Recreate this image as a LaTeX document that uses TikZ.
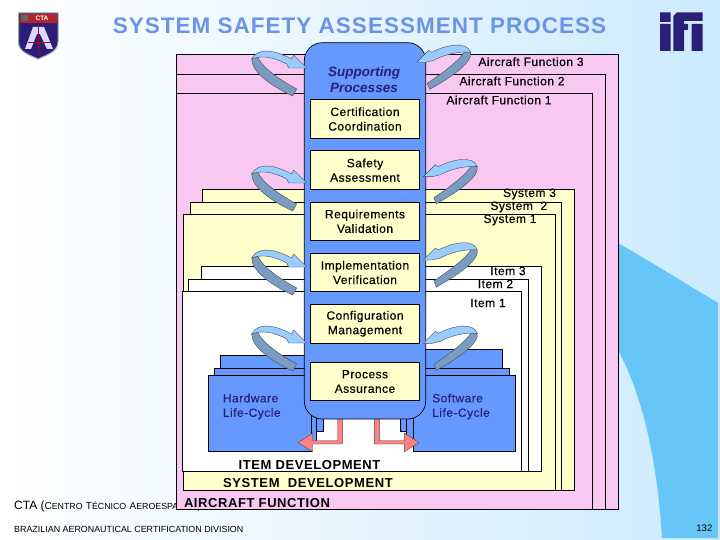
\documentclass[tikz,border=0pt]{standalone}
\usepackage{fontspec}
\setmainfont{Liberation Sans}
\newfontfamily\semi[FakeBold=0.3,LetterSpace=4]{Liberation Sans}
\newfontfamily\bigbold[LetterSpace=4.5,BoldFont={Liberation Sans Bold}]{Liberation Sans}
\usetikzlibrary{calc}
\definecolor{pinkf}{HTML}{F8C8F2}
\definecolor{yellowf}{HTML}{FFFFCC}
\definecolor{bluef}{HTML}{6699FF}
\definecolor{bandf}{HTML}{7A9CC2}
\definecolor{lightf}{HTML}{99CCFF}
\definecolor{salmonf}{HTML}{FF8080}
\definecolor{skyf}{HTML}{66C6F8}
\definecolor{pagelight}{HTML}{CCEAFE}
\definecolor{titlef}{HTML}{6A94E6}
\definecolor{navyf}{HTML}{2A1E78}
\newcommand{\sm}[1]{{\fontsize{8.8}{9}\selectfont #1}}
\newcommand{\bg}[1]{{\fontsize{10}{10}\selectfont #1}}
\tikzset{
  frame/.style={draw=black,line width=.7pt},
  pinkbox/.style={frame,fill=pinkf},
  yellowbox/.style={frame,fill=yellowf},
  whitebox/.style={frame,fill=white},
  bluebox/.style={frame,fill=bluef},
  lbl/.style={inner sep=0pt,font=\semi\fontsize{12}{14.5}\selectfont,align=center,text=black},
  big/.style={inner sep=0pt,font=\bigbold\bfseries\fontsize{13}{15}\selectfont,text=black},
  band/.style={draw=black!70,line width=.4pt,fill=bandf},
  lighta/.style={draw=black!70,line width=.4pt,fill=lightf},
  pinka/.style={draw=black!70,line width=.4pt,fill=salmonf},
  procbox/.style={draw=black,line width=.7pt,fill=yellowf,minimum width=109.4pt,inner sep=0pt,font=\semi\fontsize{12}{14.5}\selectfont,align=center}
}
\newcommand{\leftloop}[2]{%
  \begin{scope}[shift={(#1,#2)}]
    \draw[band] (-55,-9) .. controls (-55,3) and (-38,17) .. (-14,28) -- (-10,21)
       .. controls (-28,11) and (-44,0) .. (-49,-11) -- cycle;
    \draw[lighta] (0,0) -- (-13,-13) -- (-15,-9) .. controls (-30,-17) and (-48,-22) .. (-55,-9)
       .. controls (-45,-13) and (-33,-11) .. (-20,-4) -- (-18,0) -- cycle;
  \end{scope}}
\newcommand{\rightloop}[2]{%
  \begin{scope}[shift={(#1,#2)}]
    \draw[band] (54,-10) .. controls (56,0) and (35,15) .. (13,27) -- (10.5,21)
       .. controls (27,10) and (44,-3) .. (48,-11) -- cycle;
    \draw[lighta] (0,0) -- (12,-12) -- (15,-10) .. controls (28,-17) and (50,-22) .. (54,-10)
       .. controls (42,-11) and (28,-8) .. (17,-2) -- (9,0) -- cycle;
  \end{scope}}
\begin{document}
\begin{tikzpicture}[x=1pt,y=-1pt]
\useasboundingbox (0,0) rectangle (720,540);
% background
\shade[left color=white,right color=pagelight,shading angle=90] (0,0) rectangle (720,540);
\fill[skyf] (647,260) -- (718,303) -- (718,538) -- (662,538)
   .. controls (658,470) and (645,400) .. (618,350) -- (618,243) -- cycle;
% footer text under the frame
\node[anchor=base west,inner sep=0pt,font=\fontsize{12}{12}\selectfont] (cta) at (14,509)
  {CTA (\bg{C}\sm{ENTRO} \bg{T}\sm{ÉCNICO} \bg{A}\sm{EROESPACIAL)}};
\node[anchor=base west,inner sep=0pt,font=\fontsize{8.9}{10}\selectfont] (bra) at (14,532.5)
  {BRAZILIAN AERONAUTICAL CERTIFICATION DIVISION};
\node[anchor=base east,inner sep=0pt,font=\fontsize{9.5}{10}\selectfont] (page) at (712.5,531.5) {132};
% title
\node[inner sep=0pt,font=\bigbold\bfseries\fontsize{22.5}{24}\selectfont,text=titlef] (title) at (359.5,26)
  {SYSTEM SAFETY ASSESSMENT PROCESS};
% CTA emblem
\begin{scope}
  \draw[line width=1pt,draw=black!35,fill=navyf] (18.5,13) -- (58,13) -- (58,42)
     .. controls (58,52) and (46,55) .. (38,59) .. controls (30,55) and (18.5,52) .. (18.5,42) -- cycle;
  \fill[red!65!black!85] (19.5,14) rectangle (57,23);
  \node[inner sep=0pt,text=white,font=\bfseries\fontsize{6.5}{7}\selectfont] (emb) at (42,18.5) {CTA};
  \fill[black!60] (21,15.5) rectangle (28,21);
  \fill[white!85!blue] (25,49) -- (33,27) -- (44,27) -- (53,49) -- (47,49) -- (40,34) -- (37,34) -- (31,49) -- cycle;
  \draw[red!75!black,line width=.8pt] (38,25) -- (38,56) (28,42) -- (52,42);
\end{scope}
% IFI logo
\fill[navyf] (660,12.3) rectangle (670.7,22)
   (660,24) rectangle (670.7,51)
   (691.7,24) rectangle (702.7,51)
   (673.3,51) -- (673.3,16) -- (677,12.3) -- (702.7,12.3) -- (702.7,21) -- (684,21) -- (684,24) -- (688,24) -- (688,30) -- (684,30) -- (684,51) -- cycle;
% nested frames
\draw[pinkbox] (176.5,54) rectangle (618,509.5);
\draw[pinkbox] (176.5,74) rectangle (605.5,509.5);
\draw[pinkbox] (176.5,93) rectangle (592.5,509.5);
\draw[yellowbox] (202,189) rectangle (574.5,490);
\draw[yellowbox] (190,202) rectangle (561.7,490);
\draw[yellowbox] (183.5,214) rectangle (555.7,490);
\draw[whitebox] (201.7,266) rectangle (541.7,471);
\draw[whitebox] (188,279) rectangle (528,471);
\draw[whitebox] (182.7,291) rectangle (521.7,471);
% life-cycle stacks
\draw[bluebox] (220,355.7) rectangle (323.3,431.7);
\draw[bluebox] (214,368) rectangle (316.7,441);
\draw[bluebox] (208,375) rectangle (311,451.7);
\draw[bluebox] (400.7,349) rectangle (502,431.7);
\draw[bluebox] (406.7,368) rectangle (509,441);
\draw[bluebox] (413.3,375) rectangle (515.7,451.7);
% salmon arrows
\draw[pinka] (342.3,415) -- (342.3,444) -- (312.7,444) -- (312.7,451.7) -- (298,442.7) -- (312.7,433) -- (312.7,440.7) -- (337.7,440.7) -- (337.7,415) -- cycle;
\draw[pinka] (374.3,415) -- (374.3,444) -- (404.3,444) -- (404.3,451.7) -- (419,442.7) -- (404.3,433) -- (404.3,440.7) -- (379.3,440.7) -- (379.3,415) -- cycle;
% central column
\draw[frame,fill=bluef,rounded corners=18pt] (304.3,42.7) rectangle (425.7,419);
\node[inner sep=0pt,align=center,font=\bfseries\itshape\fontsize{13.5}{16}\selectfont,text=navyf] (sup) at (364,80) {Supporting\\Processes};
\node[procbox,minimum height=39.4pt] (cert) at (365,119) {Certification\\Coordination};
\node[procbox,minimum height=39pt] (safe) at (365,170.2) {Safety\\Assessment};
\node[procbox,minimum height=38pt] (req) at (365,221.3) {Requirements\\Validation};
\node[procbox,minimum height=38.4pt] (impl) at (365,272.5) {Implementation\\Verification};
\node[procbox,minimum height=39pt] (conf) at (365,323.8) {Configuration\\Management};
\node[procbox,minimum height=38.4pt] (proc) at (365,381.5) {Process\\Assurance};
% loops
\leftloop{306.7}{68}
\leftloop{306.7}{183}
\leftloop{306.7}{267}
\leftloop{306.7}{343}
\rightloop{416.7}{62.3}
\rightloop{423.3}{176.7}
\rightloop{423.3}{260}
\rightloop{423.3}{343.3}
% labels
\node[lbl] (af3) at (531,61.7) {Aircraft Function 3};
\node[lbl] (af2) at (512,81) {Aircraft Function 2};
\node[lbl] (af1) at (499,100) {Aircraft Function 1};
\node[lbl] (s3) at (529.5,194) {System 3};
\node[lbl] (s2) at (518.8,207) {System\ \ 2};
\node[lbl] (s1) at (510,220) {System 1};
\node[lbl] (i3) at (508,271) {Item 3};
\node[lbl] (i2) at (495.5,284) {Item 2};
\node[lbl] (i1) at (488,303) {Item 1};
\node[lbl,align=left,anchor=west,text=navyf] (hw) at (222.7,406.5) {Hardware\\Life-Cycle};
\node[lbl,align=left,anchor=west,text=navyf] (sw) at (432,406.5) {Software\\Life-Cycle};
\node[big] (itemd) at (309.5,465) {ITEM DEVELOPMENT};
\node[big] (sysd) at (308,483) {SYSTEM\ \ DEVELOPMENT};
\node[big] (acf) at (257,503) {AIRCRAFT FUNCTION};
\end{tikzpicture}
\end{document}
